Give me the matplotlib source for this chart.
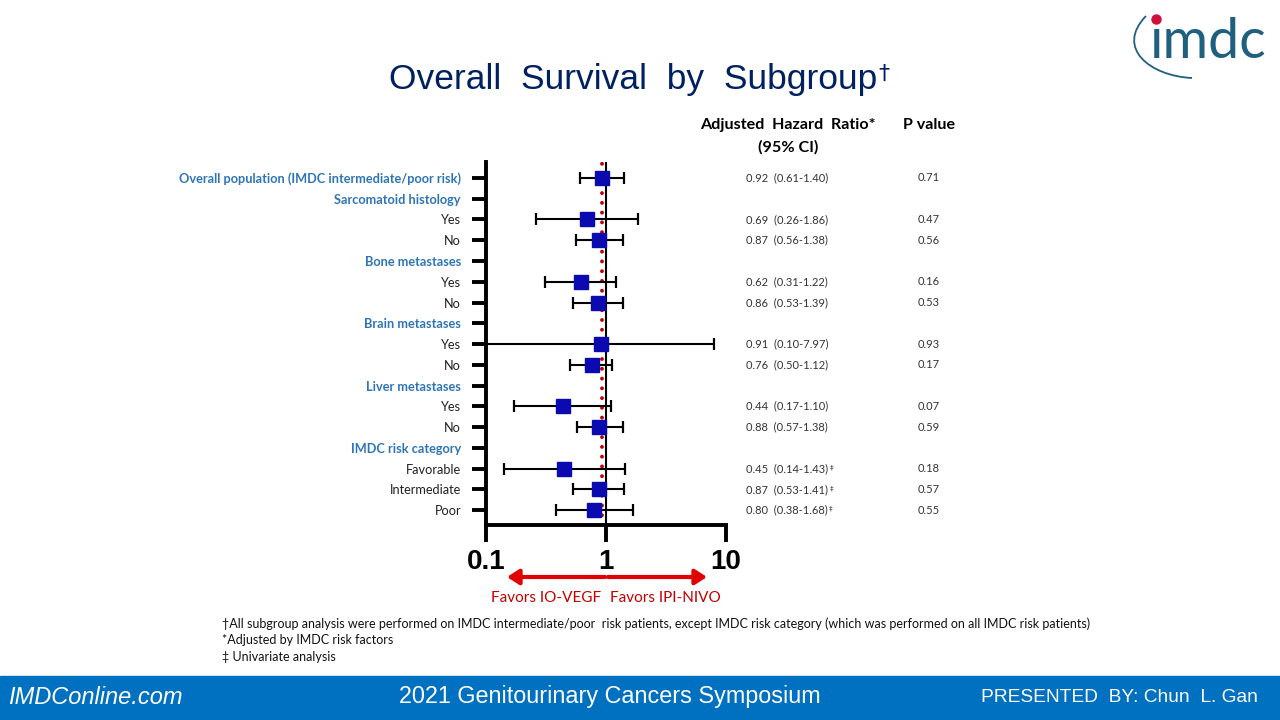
import matplotlib
matplotlib.use("Agg")
import matplotlib.pyplot as plt
from matplotlib.patches import Rectangle, FancyArrowPatch, PathPatch
from matplotlib.lines import Line2D
from matplotlib.path import Path
import numpy as np

# ---------------- data ----------------
labels = ["Overall population (IMDC intermediate/poor risk)", "Sarcomatoid histology",
          "Yes", "No", "Bone metastases", "Yes", "No", "Brain metastases", "Yes", "No",
          "Liver metastases", "Yes", "No", "IMDC risk category", "Favorable",
          "Intermediate", "Poor"]
is_header = [True, True, False, False, True, False, False, True, False, False,
             True, False, False, True, False, False, False]
hr = [0.92, None, 0.69, 0.87, None, 0.62, 0.86, None, 0.91, 0.76, None, 0.44, 0.88,
      None, 0.45, 0.87, 0.80]
ci_low = [0.61, None, 0.26, 0.56, None, 0.31, 0.53, None, 0.10, 0.50, None, 0.17, 0.57,
          None, 0.14, 0.53, 0.38]
ci_high = [1.40, None, 1.86, 1.38, None, 1.22, 1.39, None, 7.97, 1.12, None, 1.10, 1.38,
           None, 1.43, 1.41, 1.68]
p_values = ["0.71", None, "0.47", "0.56", None, "0.16", "0.53", None, "0.93", "0.17",
            None, "0.07", "0.59", None, "0.18", "0.57", "0.55"]
univariate = [False] * 14 + [True, True, True]
x_ticks = [0.1, 1, 10]
x_ticklabels = ["0.1", "1", "10"]
overall_hr = 0.92

# ---------------- figure ----------------
W, H = 1280, 720
fig = plt.figure(figsize=(12.8, 7.2), dpi=100)
fig.patch.set_facecolor("white")

def fx(px):
    return px / W

def fy(py):
    return 1 - py / H

ax = fig.add_axes([fx(486), fy(525), fx(726) - fx(486), fy(162) - fy(525)])
ax.set_xscale("log")
ax.set_xlim(0.1, 10)
n = len(labels)
ax.set_ylim(16.72, -0.77)

rows = np.arange(n)
valid = [i for i in range(n) if hr[i] is not None]
yv = np.array([rows[i] for i in valid])
hv = np.array([hr[i] for i in valid])
lo = np.array([ci_low[i] for i in valid])
hi = np.array([ci_high[i] for i in valid])

ax.axvline(1, color="black", lw=1.5, zorder=1)
ax.axvline(overall_hr, color="#C00000", lw=2.8, linestyle=(0, (0.01, 2.5)),
           dash_capstyle="round", zorder=1)
ax.errorbar(hv, yv, xerr=[hv - lo, hi - hv], fmt="none", ecolor="black",
            elinewidth=1.5, capsize=4.5, capthick=1.6, zorder=2)
ax.plot(hv, yv, "s", color="#0A0AB0", markersize=9.5, zorder=3)

for s in ["top", "right"]:
    ax.spines[s].set_visible(False)
for s in ["left", "bottom"]:
    ax.spines[s].set_linewidth(2.8)

ax.set_xticks(x_ticks)
ax.set_xticklabels(x_ticklabels)
ax.xaxis.set_minor_locator(matplotlib.ticker.NullLocator())
ax.tick_params(axis="x", direction="out", length=12, width=2.8, pad=5)
for t in ax.get_xticklabels():
    t.set_fontfamily("Liberation Sans")
    t.set_fontweight("bold")
    t.set_fontsize(20)

ax.set_yticks(rows)
ax.set_yticklabels(labels)
ax.tick_params(axis="y", direction="out", length=10, width=2.8, pad=8)
for t, hdr in zip(ax.get_yticklabels(), is_header):
    t.set_fontfamily("Lato")
    t.set_fontsize(9.2)
    if hdr:
        t.set_fontweight("bold")
        t.set_color("#2E75B6")
    else:
        t.set_color("#222222")

# right text columns
tr = matplotlib.transforms.blended_transform_factory(fig.transFigure, ax.transData)
for i in valid:
    s = f"{hr[i]:.2f}  ({ci_low[i]:.2f}-{ci_high[i]:.2f})"
    t = ax.text(fx(746), rows[i], s, transform=tr, ha="left", va="center",
                fontsize=8, family="Lato", color="#333333")
    if univariate[i]:
        ax.annotate("‡", xy=(1, 1), xycoords=t, xytext=(1, -1),
                    textcoords="offset points", ha="left", va="top",
                    fontsize=5, family="DejaVu Sans", color="#333333")
    ax.text(fx(929), rows[i], p_values[i], transform=tr, ha="center", va="center",
            fontsize=8, family="Lato", color="#333333")

fig.text(fx(788), fy(125), "Adjusted  Hazard  Ratio*", ha="center", va="center",
         fontsize=11.6, family="Lato", fontweight="bold", color="black")
fig.text(fx(788), fy(147), "(95% CI)", ha="center", va="center",
         fontsize=11.6, family="Lato", fontweight="bold", color="black")
fig.text(fx(929), fy(125), "P value", ha="center", va="center",
         fontsize=11.6, family="Lato", fontweight="bold", color="black")

# title
tt = fig.text(fx(633), fy(80), "Overall  Survival  by  Subgroup", ha="center",
              va="center", fontsize=25.5, family="Liberation Sans", color="#002060")
ax.annotate("†", xy=(1, 1), xycoords=tt, xytext=(1, 0), textcoords="offset points",
            ha="left", va="top", fontsize=16, family="DejaVu Sans", color="#002060")

# favors arrows
for x0, x1 in [(605, 507), (608, 707)]:
    arr = FancyArrowPatch((fx(x0), fy(577)), (fx(x1), fy(577)),
                          transform=fig.transFigure,
                          arrowstyle="-|>,head_length=7,head_width=4.5",
                          lw=3, color="#E00000", shrinkA=0, shrinkB=0)
    fig.add_artist(arr)
fig.text(fx(546), fy(598), "Favors IO-VEGF", ha="center", va="center",
         fontsize=11, family="Lato", color="#C00000")
fig.text(fx(665), fy(598), "Favors IPI-NIVO", ha="center", va="center",
         fontsize=11, family="Lato", color="#C00000")

# footnotes
foot = ["†All subgroup analysis were performed on IMDC intermediate/poor  risk patients, except IMDC risk category (which was performed on all IMDC risk patients)",
        "*Adjusted by IMDC risk factors",
        "‡ Univariate analysis"]
for k, line in enumerate(foot):
    fig.text(fx(222), fy(624 + 16.5 * k), line, ha="left", va="center", fontsize=9.0,
             family=["Lato", "DejaVu Sans"], color="#111111")

# footer bar
fig.add_artist(Rectangle((0, 0), 1, fy(676), transform=fig.transFigure,
                         color="#0070C0", zorder=0))
fig.text(fx(8), fy(698), "IMDConline.com", ha="left", va="center", fontsize=17,
         style="italic", family="Liberation Sans", color="white")
fig.text(fx(610), fy(697), "2021 Genitourinary Cancers Symposium", ha="center",
         va="center", fontsize=16.8, family="Liberation Sans", color="white")
fig.text(fx(1258), fy(697), "PRESENTED  BY: Chun  L. Gan", ha="right", va="center",
         fontsize=13.8, family="Liberation Sans", color="white")

# logo
fig.text(fx(1208), fy(42), "\u0131mdc", ha="center", va="center", fontsize=40,
         family=["Lato", "DejaVu Sans"], fontweight="normal", color="#1F5F7F")
verts = [(fx(1146), fy(16)), (fx(1115), fy(48)), (fx(1150), fy(76)), (fx(1192), fy(78))]
p = Path(verts, [Path.MOVETO, Path.CURVE4, Path.CURVE4, Path.CURVE4])
fig.add_artist(PathPatch(p, transform=fig.transFigure, fill=False, lw=1.3,
                         edgecolor="#1F5F7F"))
fig.add_artist(Line2D([fx(1156)], [fy(19)], transform=fig.transFigure, marker="o",
                      markersize=6.5, color="#D0103A", linestyle="none"))

fig.savefig("out.png", dpi=100)
